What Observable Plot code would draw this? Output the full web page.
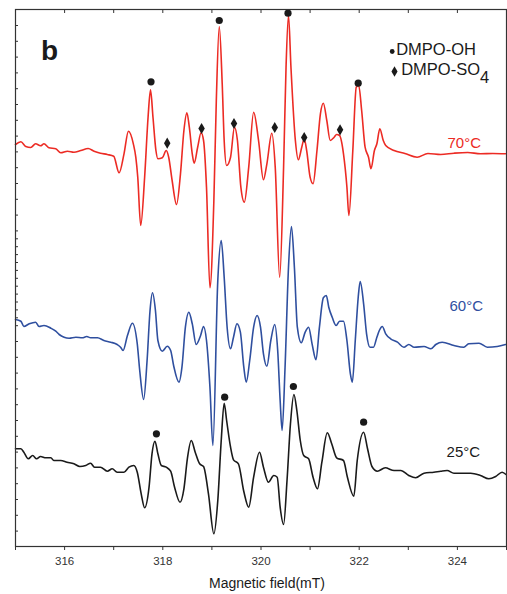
<!DOCTYPE html>
<html><head><meta charset="utf-8">
<script src="https://cdn.jsdelivr.net/npm/d3@7"></script>
<script src="https://cdn.jsdelivr.net/npm/@observablehq/plot@0.6"></script>
<style>
body{margin:0;background:#fff;}
#chart svg{display:block}
</style></head><body><div id="chart"></div>
<script>
// EPR spectra, magnetic field (mT) vs intensity (a.u., traces offset)
const field70 = [315.00,315.11,315.21,315.31,315.41,315.51,315.58,315.68,315.82,315.92,316.06,316.19,316.33,316.48,316.60,316.73,316.87,317.00,317.11,317.21,317.30,317.40,317.45,317.49,317.55,317.63,317.70,317.75,317.80,317.86,317.90,317.99,318.07,318.12,318.19,318.28,318.36,318.43,318.49,318.54,318.60,318.64,318.71,318.78,318.83,318.89,318.96,319.04,319.09,319.15,319.21,319.25,319.30,319.38,319.46,319.52,319.59,319.66,319.75,319.85,319.95,320.05,320.12,320.22,320.29,320.38,320.46,320.51,320.56,320.61,320.70,320.76,320.83,320.88,320.93,321.00,321.06,321.14,321.21,321.27,321.34,321.41,321.49,321.54,321.60,321.68,321.75,321.79,321.87,321.94,321.99,322.05,322.12,322.19,322.24,322.31,322.36,322.42,322.49,322.54,322.71,322.93,323.18,323.40,323.66,323.93,324.21,324.47,324.72,324.98];
const int70 = [402,404.7,400,399,402.7,400.7,402.7,398.7,397.7,393.7,395.3,394.3,396,398,395.3,393.3,392,390.3,373.7,392.7,415.3,402.7,389.3,369.3,321,369.3,429.3,456.7,429.3,396,387.7,388.7,396,389.3,366,342,372.7,416,433.7,419.3,392.7,383.3,399.3,413.7,406,359.3,258.7,346,446,520,462.7,406,381,389.3,419.3,406,359.3,344.3,379.3,434.3,406,366.7,382.7,413.3,379.3,269.3,379.3,479.3,531,479.3,406,386.7,399.3,407.7,396,369.3,362.7,396,432.7,443.3,426,406,409.3,412,411,392.7,359.3,331,396,459.3,461,436,399.3,389.3,377.7,396,402.7,417.7,406,401,396,393,389.3,393,392,393.3,394,392.7,393,392.7];

const field60 = [315.00,315.11,315.17,315.28,315.41,315.48,315.58,315.72,315.82,315.89,315.99,316.09,316.23,316.36,316.45,316.53,316.67,316.80,316.94,317.07,317.14,317.19,317.28,317.38,317.48,317.53,317.61,317.68,317.74,317.79,317.85,317.90,317.99,318.09,318.16,318.22,318.33,318.39,318.46,318.53,318.60,318.68,318.77,318.83,318.89,318.96,319.02,319.12,319.19,319.25,319.31,319.38,319.44,319.51,319.58,319.65,319.70,319.77,319.85,319.92,319.99,320.05,320.12,320.20,320.28,320.34,320.39,320.43,320.49,320.56,320.62,320.68,320.74,320.82,320.90,320.97,321.04,321.12,321.19,321.27,321.33,321.38,321.45,321.53,321.60,321.68,321.75,321.82,321.86,321.92,321.98,322.02,322.09,322.15,322.22,322.29,322.36,322.41,322.47,322.54,322.64,322.78,322.91,323.01,323.12,323.32,323.46,323.56,323.69,323.93,324.13,324.23,324.44,324.61,324.81,324.98];
const int60 = [227,225.3,220,222.7,224.3,220,221,218.3,215.3,212,209.3,208.3,209.3,208.7,210,208.7,208.7,206,204.3,202,199.3,196,211,223.3,202.7,176,147,186,236,253.7,236,206,195.3,200.3,196,181,164.3,179.3,219.3,234.3,222.7,202,211,220,206,159.3,101,266,306,269.3,219.3,197.7,209.3,222.7,214.3,179.3,164.3,186,219.3,231,219.3,192.7,180.3,206,222,196,146,116,179.3,279.3,320,279.3,219.3,203.7,214.3,219.3,202.7,186.7,219.3,248.7,251,239.3,229.3,221,225.3,225.3,206,172.7,164.3,206,249.3,265,242.7,212.7,199.3,199.3,209.3,216,220,212.7,207.7,204.3,199.3,202,199.3,200,197.7,202,204.3,201,199.3,202.7,203.3,199.3,200,202];

const field25 = [315.00,315.11,315.17,315.26,315.35,315.43,315.51,315.62,315.72,315.78,315.92,316.05,316.19,316.31,316.43,316.53,316.61,316.73,316.87,316.97,317.07,317.21,317.31,317.41,317.48,317.56,317.63,317.72,317.78,317.84,317.90,317.97,318.07,318.16,318.24,318.35,318.43,318.50,318.58,318.66,318.75,318.83,318.93,319.04,319.12,319.19,319.25,319.30,319.38,319.44,319.54,319.65,319.75,319.85,319.97,320.05,320.15,320.26,320.33,320.39,320.46,320.53,320.60,320.67,320.73,320.80,320.87,320.97,321.06,321.15,321.24,321.35,321.44,321.54,321.68,321.76,321.89,321.96,322.09,322.17,322.26,322.37,322.53,322.71,322.85,323.01,323.15,323.32,323.52,323.66,323.79,323.93,324.06,324.27,324.47,324.64,324.78,324.91,324.99];
const int25 = [97.7,97.7,94.3,87.7,91,87.7,90,88.7,88.7,86,86,84.3,82.7,80,81,83.3,79.3,79.3,75.3,77.7,74.3,74.3,79.3,81,74.3,52.7,38.7,59.3,92.7,105.3,92.7,81,79.3,75.3,59.3,44.3,57.7,87.7,106,94.3,82.7,80,52.7,12.7,46,106,143.3,126,99.3,86.7,82.7,55,39.3,69.3,94.3,79.3,64.3,71,69.3,39.3,22,66,122.7,152,136,106,91,87.7,69.3,57.7,84.3,113.7,102.7,88.7,86,69.3,50.3,86,114.3,97.7,80,75.3,78.7,76,76,71,68.7,73.3,74.3,75.3,76,73.3,73.3,73.3,71,67.7,70,74.3,72];

// peak markers: DMPO-OH (circles) and DMPO-SO4 (diamonds)
const ohField = [317.76,319.15,320.55,321.98,317.87,319.26,320.66,322.09];
const ohInt = [464.7,526,533.3,463.3,112.7,149.3,160,124.3];
const so4Field = [318.09,318.79,319.45,320.28,320.88,321.61];
const so4Int = [403.3,418,423,419,409,416.7];

const traceNames = ["70°C","60°C","25°C"];
const traceLabelField = [324.14,324.18,324.12];
const traceLabelInt = [403,240,94.5];
const traceColors = ["#ec2b24","#2f4f9f","#1a1a1a"];

const xMajorTicks = [316,318,320,322,324];
const xMinorTicks = [315,317,319,321,323,325];
const xAllTicks = [315,316,317,318,319,320,321,322,323,324,325];
const yTicks = [521,505.2,489.4,473.6,457.8,442,426.2,410.4,394.6,378.8,363,347.2,331.4,315.6,307.7,299.8,291.9,284,276.1,268.2,260.3,252.4,244.5,236.6,228.7,220.8,205,189.2,173.4,157.6,141.8,126,110.2,94.4,78.6,62.8,47,31.2,15.4];

const panelLetter = "b";
const legendNames = ["DMPO-OH","DMPO-SO"];
const legendSub = "4";
const xLabel = "Magnetic field(mT)";

const rows = (f, v) => f.map((x, i) => ({field: x, intensity: v[i]}));
const r70 = rows(field70, int70), r60 = rows(field60, int60), r25 = rows(field25, int25);
const ohPts = rows(ohField, ohInt), so4Pts = rows(so4Field, so4Int);
const labelRows = traceNames.map((t, i) => ({t, field: traceLabelField[i], intensity: traceLabelInt[i], c: traceColors[i]}));

const font = "'Liberation Sans', Arial, Helvetica, sans-serif";
const ink = "#1a1a1a";
const note = (txt, o) => Plot.text([txt], {frameAnchor: "top-left", lineAnchor: "middle", textAnchor: "start", text: d => d, fill: ink, ...o});

const chart = Plot.plot({
  width: 507, height: 594,
  marginLeft: 15, marginRight: 1, marginTop: 9, marginBottom: 48,
  x: {domain: [315, 325]},
  y: {domain: [0, 537]},
  style: {fontFamily: font, background: "#fff", color: "#333"},
  marks: [
    Plot.lineY(r70, {x: "field", y: "intensity", stroke: traceColors[0], strokeWidth: 1.6, curve: "monotone-x"}),
    Plot.lineY(r60, {x: "field", y: "intensity", stroke: traceColors[1], strokeWidth: 1.6, curve: "monotone-x"}),
    Plot.lineY(r25, {x: "field", y: "intensity", stroke: traceColors[2], strokeWidth: 1.6, curve: "monotone-x"}),
    Plot.dot(ohPts, {x: "field", y: "intensity", r: 3.6, fill: ink}),
    Plot.dot(so4Pts, {x: "field", y: "intensity", r: 3.4, symbol: "diamond", fill: ink}),
    Plot.text(labelRows, {x: "field", y: "intensity", text: "t", fill: "c", fontSize: 15}),
    note(panelLetter, {dx: 25.5, dy: 42, fontWeight: "bold", fontSize: 28}),
    Plot.dot([0], {frameAnchor: "top-left", dx: 376.7, dy: 42, r: 2.4, fill: ink}),
    Plot.dot([0], {frameAnchor: "top-left", dx: 379, dy: 62, r: 3.2, symbol: "diamond", fill: ink}),
    note(legendNames[0], {dx: 380.7, dy: 40.7, fontSize: 16.5}),
    note(legendNames[1], {dx: 385.7, dy: 60.7, fontSize: 16.5, className: "so4"}),
    Plot.text([xLabel], {frameAnchor: "bottom", lineAnchor: "middle", dx: 6, dy: 37, text: d => d, fontSize: 14, fill: ink}),
    Plot.frame({stroke: "#333", strokeWidth: 1.2}),
    Plot.axisX({ticks: xMajorTicks, tickSize: 4, tickPadding: 6, fontSize: 11.5, label: null, stroke: "#333", fill: "#333"}),
    Plot.axisX({ticks: xMinorTicks, tickSize: 4, tickFormat: () => "", label: null, stroke: "#333"}),
    Plot.axisX({anchor: "top", ticks: xAllTicks, tickSize: -3, tickFormat: () => "", label: null, stroke: "#333"}),
    Plot.axisY({ticks: yTicks, tickSize: -3, tickFormat: () => "", label: null, stroke: "#333"})
  ]
});
// subscript 4 appended directly after "DMPO-SO"
d3.select(chart).selectAll("text")
  .filter(function() { return this.textContent === legendNames[1]; })
  .append("tspan").attr("dy", "0.46em").text(legendSub);
document.getElementById("chart").appendChild(chart);
</script>
</body></html>
